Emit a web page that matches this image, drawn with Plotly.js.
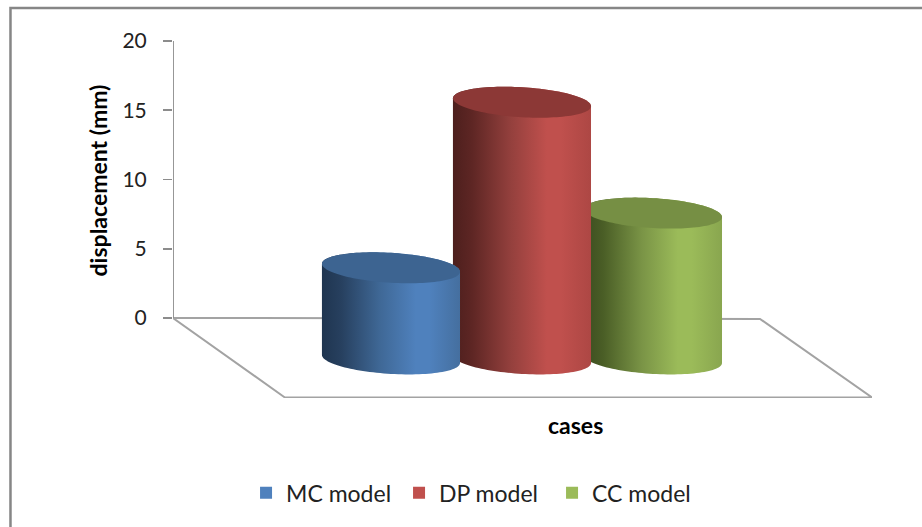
<!DOCTYPE html>
<html>
<head>
<meta charset="utf-8">
<script src="https://cdn.plot.ly/plotly-3.0.1.min.js"></script>
<style>html,body{margin:0;padding:0;background:#fff}#chart{width:922px;height:527px}</style>
</head>
<body>
<div id="chart"></div>
<script>
// Peak displacement per constitutive model
const seriesNames = ['MC model', 'DP model', 'CC model'];
const displacement = [6.0, 16.9, 9.6];
const seriesColors = ['#4f81bd', '#c0504d', '#9bbb59'];
const topColors = ['#3d6491', '#8c3836', '#768f44'];
const shadeStops = [
  ['#1f3550', '#27405f', '#3f6896', '#4f81bd', '#4f81bd', '#456f9f'],
  ['#4d1f1d', '#5e2624', '#94403d', '#c0504d', '#c0504d', '#ad4744'],
  ['#3c4c20', '#4a5e26', '#7a9446', '#9bbb59', '#9bbb59', '#89a64f']
];
const shadeOffsets = [0, 0.14, 0.42, 0.68, 0.78, 1];
const yTicks = [0, 5, 10, 15, 20];

// Pseudo-3D projection of the chart box onto the value/slot axes
const floorFront = -2.96;   // y of the cylinder base centres
const frontScale = 1.097;   // front plane is nearer than the back wall
const radiusX = 0.527, skewY = 0.289, radiusY = 1.081;
const drawOrder = [2, 1, 0];

function ellipseArc(cx, cy, from, to, n) {
  const xs = [], ys = [];
  for (let i = 0; i <= n; i++) {
    const t = from + (to - from) * i / n;
    xs.push(cx + radiusX * Math.cos(t));
    ys.push(cy - skewY * Math.cos(t) + radiusY * Math.sin(t));
  }
  return [xs, ys];
}

const traces = [];

// Floor of the 3D box and the value axis line
traces.push({
  x: [-1.664, -0.81, 3.672, 2.817, -1.664],
  y: [0, -5.74, -5.74, -0.07, 0],
  mode: 'lines', line: {color: '#a3a3a3', width: 2}, showlegend: false, hoverinfo: 'skip'
});
traces.push({
  x: [-1.664, -1.664], y: [0, 20],
  mode: 'lines', line: {color: '#8c8c8c', width: 1.8}, showlegend: false, hoverinfo: 'skip'
});

drawOrder.forEach(i => {
  const top = floorFront + displacement[i] * frontScale;
  const upper = ellipseArc(i, top, 0, Math.PI, 60);
  const lower = ellipseArc(i, floorFront, Math.PI, 2 * Math.PI, 60);
  traces.push({
    x: upper[0].concat(lower[0]), y: upper[1].concat(lower[1]),
    mode: 'none', fill: 'toself',
    fillgradient: {
      type: 'horizontal',
      colorscale: shadeOffsets.map((o, k) => [o, shadeStops[i][k]])
    },
    showlegend: false, hoverinfo: 'skip'
  });
  const cap = ellipseArc(i, top, 0, 2 * Math.PI, 120);
  traces.push({
    x: cap[0], y: cap[1], mode: 'none', fill: 'toself', fillcolor: topColors[i],
    showlegend: false, hoverinfo: 'skip'
  });
});

// Legend keys
seriesNames.forEach((name, i) => {
  traces.push({type: 'bar', x: [null], y: [null], name: name, marker: {color: seriesColors[i]}});
});

const layout = {
  width: 922, height: 527,
  margin: {l: 173, r: 50, t: 41, b: 129, pad: 0},
  paper_bgcolor: '#fff', plot_bgcolor: 'rgba(0,0,0,0)',
  showlegend: true,
  legend: {
    orientation: 'h', x: 0.1045, y: -0.205, xanchor: 'left', yanchor: 'top',
    font: {family: 'Lato, sans-serif', size: 23, color: '#222'},
    itemwidth: 30, itemclick: false, entrywidth: 108
  },
  xaxis: {range: [-1.664, 3.672], showgrid: false, zeroline: false, showline: false, showticklabels: false, ticks: ''},
  yaxis: {
    range: [-5.78, 20], tickvals: yTicks, ticktext: yTicks.map(String),
    showgrid: false, zeroline: false, showline: false,
    ticks: 'outside', ticklen: 9, tickwidth: 1.6, tickcolor: '#8c8c8c',
    ticklabelstandoff: 12,
    tickfont: {family: 'Lato, sans-serif', size: 21, color: '#222'}
  },
  shapes: [{
    type: 'rect', xref: 'paper', yref: 'paper', layer: 'below',
    x0: -0.2325, x1: 1.2, y0: -0.5, y1: 1.0924,
    line: {color: '#868686', width: 2.5}, fillcolor: 'rgba(0,0,0,0)'
  }],
  annotations: [
    {text: '<b>displacement (mm)</b>', textangle: -90, xref: 'paper', yref: 'paper', x: -0.107, y: 0.61,
     xanchor: 'center', yanchor: 'middle',
     showarrow: false, font: {family: 'Lato, sans-serif', size: 23, color: '#000'}},
    {text: '<b>cases</b>', xref: 'paper', yref: 'paper', x: 0.576, y: -0.0756,
     xanchor: 'center', yanchor: 'middle',
     showarrow: false, font: {family: 'Lato, sans-serif', size: 23, color: '#000'}}
  ]
};

Plotly.newPlot('chart', traces, layout, {displayModeBar: false, staticPlot: true});
</script>
</body>
</html>
